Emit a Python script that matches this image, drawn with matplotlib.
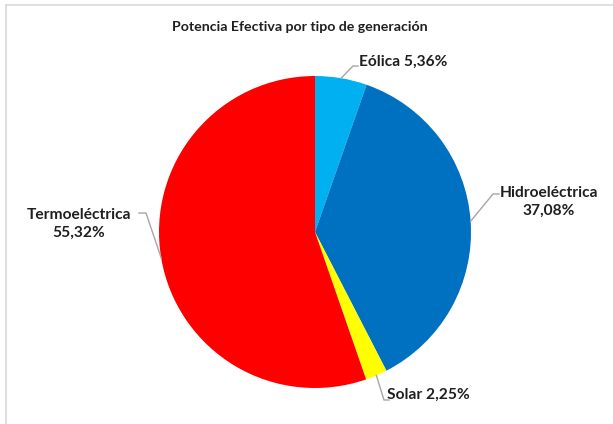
import numpy as np
import matplotlib.pyplot as plt
from matplotlib.lines import Line2D

# Potencia efectiva por tipo de generacion (%)
tipos = ['Eólica', 'Hidroeléctrica', 'Solar', 'Termoeléctrica']
valores = [5.36, 37.08, 2.25, 55.32]
colores = ['#00B0F0', '#0070C0', '#FFFF00', '#FF0000']

W, H = 613, 424
fig = plt.figure(figsize=(W / 100, H / 100), dpi=100)
ax = fig.add_axes([0, 0, 1, 1])

cx, cy, r = 315, H - 232, 156
wedges, _ = ax.pie(valores, colors=colores, startangle=90, counterclock=False,
                   center=(cx, cy), radius=r, frame=True,
                   wedgeprops=dict(linewidth=0))
ax.set_xlim(0, W)
ax.set_ylim(0, H)
ax.set_aspect('equal')
ax.axis('off')

fuente = dict(family=['Lato', 'DejaVu Sans'], fontweight='bold', color='#1F1F1F')

# borde del grafico
ax.add_line(Line2D([5.5, 5.5], [0, H - 4.5], color='#D9D9D9', lw=1.2))
ax.add_line(Line2D([5.5, W], [H - 4.5, H - 4.5], color='#D9D9D9', lw=1.2))

ax.text(300, H - 27, 'Potencia Efectiva por tipo de generación',
        ha='center', va='center', fontsize=10.2, **fuente)

def fmt(v):
    return f'{v:.2f}'.replace('.', ',') + '%'

# posicion del rotulo, codo de la linea guia, extremo, alineacion, en dos lineas
rotulos = {
    'Eólica': ((359, H - 62), (353, H - 66), 358, 'left', False),
    'Hidroeléctrica': ((549, H - 202), (493, H - 194), 499, 'center', True),
    'Solar': ((387, H - 395), (384, H - 400), 389, 'left', False),
    'Termoeléctrica': ((79, H - 224), (146, H - 213), 139, 'center', True),
}

inicio = 90.0
for tipo, v in zip(tipos, valores):
    medio = np.deg2rad(inicio - v * 3.6 / 2)
    inicio -= v * 3.6
    px, py = cx + r * np.cos(medio), cy + r * np.sin(medio)
    (tx, ty), (ex, ey), fin, ha, dos = rotulos[tipo]
    if dos:
        texto = f'{tipo}\n{fmt(v)}'
    else:
        texto = f'{tipo} {fmt(v)}'
    ax.add_line(Line2D([px, ex, fin], [py, ey, ey], color='#A6A6A6', lw=1))
    ax.text(tx, ty, texto, ha=ha, va='center', fontsize=11.2,
            linespacing=1.3, **fuente)

fig.savefig('out.png', dpi=100, facecolor='white')
